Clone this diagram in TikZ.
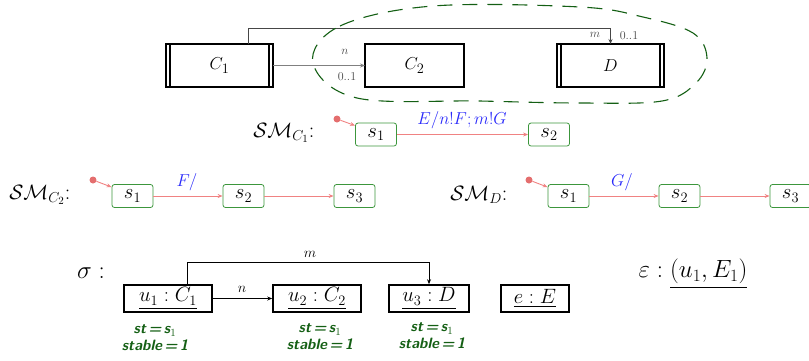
\documentclass[tikz,border=0pt]{standalone}
\usepackage{amsmath}
\usetikzlibrary{arrows.meta}
\definecolor{smgreen}{RGB}{60,150,60}
\definecolor{trred}{RGB}{240,130,130}
\definecolor{dotred}{RGB}{228,110,110}
\definecolor{lblue}{RGB}{40,40,250}
\definecolor{hgreen}{RGB}{20,95,20}
\definecolor{assocgray}{RGB}{70,70,70}
\begin{document}
\begin{tikzpicture}[x=1pt,y=-1pt,
  cls/.style={draw,line width=1.4pt,outer sep=0pt,minimum height=43pt,inner sep=0pt,font=\fontsize{19}{21}\selectfont},
  state/.style={draw=smgreen,rounded corners=2.5pt,line width=0.8pt,minimum width=41pt,minimum height=23pt,inner sep=0pt,font=\fontsize{21}{23}\selectfont},
  tr/.style={draw=trred,line width=0.9pt,-{Stealth[length=5pt,width=4pt]}},
  initdot/.style={circle,fill=dotred,inner sep=0pt,minimum size=7pt},
  obj/.style={draw,line width=1.6pt,minimum height=27pt,inner sep=0pt,font=\fontsize{22}{24}\selectfont},
  assoc/.style={draw=assocgray,line width=0.8pt,-{Stealth[length=5pt,width=4pt]}},
  small/.style={font=\fontsize{12}{14}\selectfont,text=assocgray},
  trlbl/.style={text=lblue,font=\fontsize{17}{19}\selectfont},
  smlbl/.style={font=\fontsize{22}{24}\selectfont,anchor=east},
  hand/.style={text=hgreen,font=\fontsize{15}{16}\sffamily\itshape\bfseries,align=center}
]
\path[use as bounding box] (0,0) rectangle (809,360);

% class diagram
\node[cls,minimum width=107pt] (C1) at (219.5,65.5) {$C_1$};
\node[cls,minimum width=99pt] (C2) at (414.5,65.5) {$C_2$};
\node[cls,minimum width=107pt] (D) at (610.5,65.5) {$D$};
\foreach \n in {C1,D}{
  \draw[line width=1.2pt] ([xshift=4pt]\n.north west) -- ([xshift=4pt]\n.south west);
  \draw[line width=1.2pt] ([xshift=-4pt]\n.north east) -- ([xshift=-4pt]\n.south east);
}
\draw[assoc,draw=gray,line width=1pt] (C1.east) -- (C2.west);
\node[small] (ln) at (345,52) {$n$};
\node[small,font=\fontsize{13}{14}\selectfont] (lc1) at (347,77) {$0..1$};
\draw[assoc] ([xshift=28.5pt]C1.north) |- ([yshift=16pt]D.north) -- (D.north);
\node[small] (lm) at (595,35) {$m$};
\node[small,font=\fontsize{13}{14}\selectfont] (lc2) at (629,36) {$0..1$};

% dashed hand-drawn enclosure
\draw[hgreen,line width=1.1pt,dash pattern=on 15pt off 10pt]
  plot[smooth cycle,tension=0.6] coordinates {(313,63) (340,26) (433,6) (580,7) (643,17) (693,33) (707,58) (696,83) (662,101) (580,103) (480,101) (357,98)};

% SM_C1
\node[smlbl] (smc1) at (318,133) {$\mathcal{SM}_{C_1}$:};
\node[state] (a1) at (376,134.5) {$s_1$};
\node[state] (a2) at (549,134.5) {$s_2$};
\node[initdot] (ad) at (337,119) {};
\draw[tr] (ad) -- ([yshift=-3pt]a1.north west);
\draw[tr] (a1) -- (a2);
\node[trlbl] (alab) at (462,120) {$E/n!F;m!G$};

% SM_C2
\node[smlbl] (smc2) at (74,195) {$\mathcal{SM}_{C_2}$:};
\node[state] (b1) at (132.5,196) {$s_1$};
\node[state] (b2) at (243.5,196) {$s_2$};
\node[state] (b3) at (354.5,196) {$s_3$};
\node[initdot] (bd) at (93,180) {};
\draw[tr] (bd) -- ([yshift=-3pt]b1.north west);
\draw[tr] (b1) -- (b2);
\draw[tr] (b2) -- (b3);
\node[trlbl] (blab) at (187,182) {$F/$};

% SM_D
\node[smlbl] (smd) at (511,195) {$\mathcal{SM}_{D}$:};
\node[state] (c1) at (568.5,196) {$s_1$};
\node[state] (c2) at (679.5,196) {$s_2$};
\node[state] (c3) at (790.5,196) {$s_3$};
\node[initdot] (cd) at (529,180) {};
\draw[tr] (cd) -- ([yshift=-3pt]c1.north west);
\draw[tr] (c1) -- (c2);
\draw[tr] (c2) -- (c3);
\node[trlbl] (clab) at (622,182) {$G/$};

% object diagram
\node[font=\fontsize{26}{28}\selectfont] (sig) at (91,273) {$\sigma:$};
\node[obj,minimum width=88pt] (u1) at (168,298.5) {$\underline{u_1:C_1}$};
\node[obj,minimum width=88pt] (u2) at (317,298.5) {$\underline{u_2:C_2}$};
\node[obj,minimum width=80pt] (u3) at (429,298.5) {$\underline{u_3:D}$};
\node[obj,minimum width=68pt] (e) at (535,298.5) {$\underline{e:E}$};
\draw[assoc,draw=black] (u1.east) -- (u2.west);
\node[font=\fontsize{14}{16}\selectfont] (un) at (242,289) {$n$};
\draw[assoc,draw=black] ([xshift=19pt]u1.north) |- ([yshift=22pt]u3.north) -- (u3.north);
\node[font=\fontsize{14}{16}\selectfont] (um) at (310,254) {$m$};
\node[font=\fontsize{27}{30}\selectfont] (eps) at (693,274) {$\varepsilon:\underline{(u_1,E_1)}$};

% handwritten annotations
\node[hand] (h1) at (155,338) {st\,=\,s$_1$\\[1pt]stable\,=\,1};
\node[hand] (h2) at (320,337) {st\,=\,s$_1$\\[1pt]stable\,=\,1};
\node[hand] (h3) at (432,336) {st\,=\,s$_1$\\[1pt]stable\,=\,1};
\end{tikzpicture}
\end{document}
